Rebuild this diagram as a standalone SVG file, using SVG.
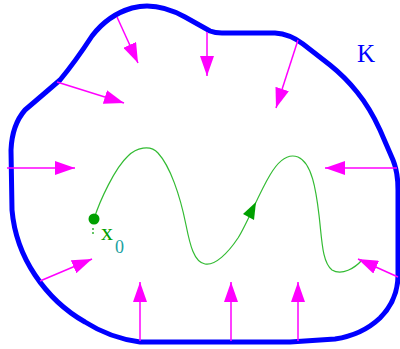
<svg xmlns="http://www.w3.org/2000/svg" width="400" height="349" viewBox="0 0 400 349">
<style>
.bd{fill:none;stroke:#0000ff;stroke-width:5;stroke-linejoin:round}
.ar{stroke:#ff00ff;stroke-width:1.5;fill:none;marker-end:url(#mh)}
.tr{fill:none;stroke:#33bb33;stroke-width:1.2}
.lbl{font-family:"Liberation Serif","Times New Roman",serif}
</style>
<defs>
<marker id="mh" markerUnits="userSpaceOnUse" markerWidth="20" markerHeight="14" viewBox="0 0 20 14" refX="20" refY="7" orient="auto">
<path d="M0,0 L20,7 L0,14 Z" fill="#ff00ff"/>
</marker>
</defs>
<rect width="400" height="349" fill="#ffffff"/>
<g id="boundary-K">
<path class="bd" d="M147,6 Q165,6 185,17 L210,31 Q215,33 222,33 L275,33 Q290,34 303,44 L330,65 Q345,77 357,92 Q370,108 380,130 L393,160 Q398,172 398,190 L398,275 Q398,300 380,318 Q362,335 335,339 L290,342 L140,342 Q110,338 85,322 Q55,305 35,275 Q15,245 12,210 L11,150 Q12,125 25,110 Q45,93 60,80 Q75,62 92,36 Q108,15 132,8 Q140,6 147,6 Z"/>
<text class="lbl" x="357" y="62" font-size="25" fill="#0000ff">K</text>
</g>
<g id="trajectory">
<path class="tr" d="M94,219 C100,200 115,168 128,156 C136,148 150,144 158,153 C170,166 180,195 186,225 C190,245 194,262 205,264 C215,266 228,253 238,238 C248,222 258,195 270,175 C280,158 290,154 298,157 C312,163 316,190 319,215 C322,240 322,262 332,270 C342,276 355,268 362,260"/>
<path d="M256,202 L254,220 L243,214 Z" fill="#00a000"/>
</g>
<g id="start-x0">
<circle cx="94" cy="219" r="5.5" fill="#00a000"/>
<line x1="93" y1="228" x2="93" y2="236" stroke="#00a000" stroke-width="1.2" stroke-dasharray="2,2"/>
<text class="lbl" x="101" y="240" font-size="24" fill="#00a000">x</text>
<text class="lbl" x="115" y="253" font-size="18" fill="#20a0a0">0</text>
</g>
<g id="connectors">
<line class="ar" x1="117" y1="17" x2="138" y2="63"/>
<line class="ar" x1="57" y1="82" x2="124" y2="103"/>
<line class="ar" x1="7" y1="168" x2="75" y2="168"/>
<line class="ar" x1="207" y1="32" x2="207" y2="76"/>
<line class="ar" x1="298" y1="40" x2="276" y2="108"/>
<line class="ar" x1="397" y1="168" x2="325" y2="168"/>
<line class="ar" x1="40" y1="281" x2="92" y2="259"/>
<line class="ar" x1="140" y1="341" x2="140" y2="282"/>
<line class="ar" x1="231" y1="341" x2="231" y2="282"/>
<line class="ar" x1="298" y1="341" x2="298" y2="282"/>
<line class="ar" x1="398" y1="277" x2="358" y2="259"/>
</g>
</svg>
